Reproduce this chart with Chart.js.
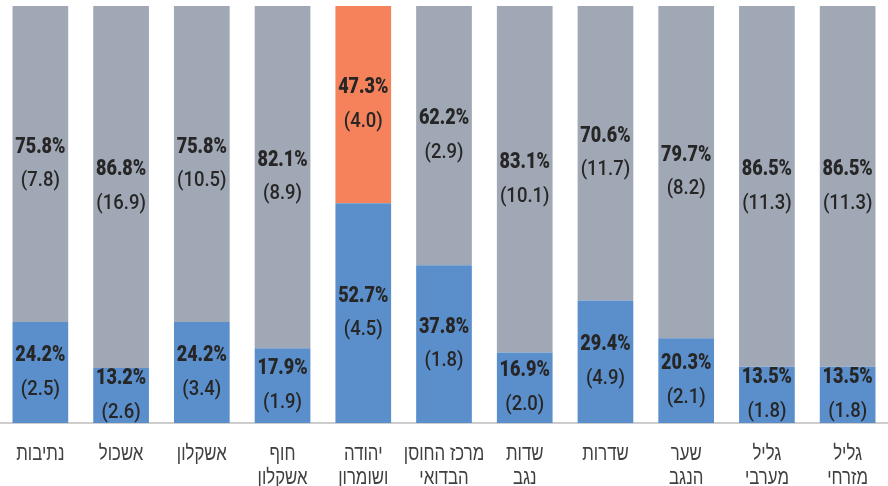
<!DOCTYPE html>
<html>
<head>
<meta charset="utf-8">
<script src="https://cdn.jsdelivr.net/npm/chart.js@4"></script>
<style>
  html, body { margin: 0; padding: 0; background: #fff; }
  #wrap { width: 888px; height: 486px; }
</style>
</head>
<body>
<div id="wrap"><canvas id="chart"></canvas></div>
<script>
// Chart data
const categories = [
    'נתיבות', 'אשכול', 'אשקלון', ['חוף', 'אשקלון'], ['יהודה', 'ושומרון'],
    ['מרכז החוסן', 'הבדואי'], ['שדות', 'נגב'], 'שדרות', ['שער', 'הנגב'],
    ['גליל', 'מערבי'], ['גליל', 'מזרחי']
];
const bottomPct = [24.2, 13.2, 24.2, 17.9, 52.7, 37.8, 16.9, 29.4, 20.3, 13.5, 13.5];
const bottomCount = [2.5, 2.6, 3.4, 1.9, 4.5, 1.8, 2.0, 4.9, 2.1, 1.8, 1.8];
const topPct = [75.8, 86.8, 75.8, 82.1, 47.3, 62.2, 83.1, 70.6, 79.7, 86.5, 86.5];
const topCount = [7.8, 16.9, 10.5, 8.9, 4.0, 2.9, 10.1, 11.7, 8.2, 11.3, 11.3];

const BLUE = 'rgb(91, 143, 204)';
const GRAY = 'rgb(160, 168, 181)';
const ORANGE = 'rgb(245, 130, 90)';
const NUM_FONT = 'Roboto, "Liberation Sans", sans-serif';
const HEB_FONT = '"Liberation Sans", "DejaVu Sans", sans-serif';

// condensed text: squeeze horizontally around x
function narrowText(ctx, text, x, y, sx) {
    ctx.save();
    ctx.translate(x, y);
    ctx.scale(sx, 1);
    ctx.fillText(text, 0, 0);
    ctx.restore();
}

// Draw percent + count inside each segment, and the category labels
const segmentLabels = {
    id: 'segmentLabels',
    afterDatasetsDraw(chart) {
        const ctx = chart.ctx;
        const counts = [bottomCount, topCount];
        ctx.save();
        ctx.fillStyle = '#262626';
        ctx.textAlign = 'center';
        ctx.textBaseline = 'middle';
        chart.data.datasets.forEach((ds, di) => {
            chart.getDatasetMeta(di).data.forEach((bar, i) => {
                const mid = (bar.y + bar.base) / 2;
                ctx.font = '900 22px ' + NUM_FONT;
                narrowText(ctx, ds.data[i].toFixed(1) + '%', bar.x, mid - 17, 0.82);
                ctx.font = '500 21px ' + NUM_FONT;
                narrowText(ctx, '(' + counts[di][i].toFixed(1) + ')', bar.x, mid + 17, 0.88);
            });
        });

        const xs = chart.scales.x;
        ctx.fillStyle = '#404040';
        ctx.font = '21px ' + HEB_FONT;
        categories.forEach((lab, i) => {
            const lines = Array.isArray(lab) ? lab : [lab];
            const x = xs.getPixelForTick(i);
            lines.forEach((line, j) => {
                narrowText(ctx, line, x, xs.top + 31 + j * 24, 0.8);
            });
        });
        ctx.restore();
    }
};

new Chart(document.getElementById('chart'), {
    type: 'bar',
    data: {
        labels: categories,
        datasets: [
            { data: bottomPct, backgroundColor: BLUE },
            { data: topPct, backgroundColor: topPct.map((v, i) => i === 4 ? ORANGE : GRAY) }
        ]
    },
    options: {
        responsive: true,
        maintainAspectRatio: false,
        animation: false,
        layout: { padding: { top: 6, left: 0, right: 0, bottom: 0 } },
        datasets: { bar: { barPercentage: 0.69, categoryPercentage: 1 } },
        plugins: { legend: { display: false }, tooltip: { enabled: false } },
        scales: {
            x: {
                stacked: true,
                grid: { display: false, drawTicks: false },
                border: { display: true, color: 'rgb(205, 205, 205)', width: 2 },
                ticks: { display: false },
                afterFit(scale) { scale.height = 63; }
            },
            y: {
                stacked: true,
                display: false,
                min: 0,
                max: 100
            }
        }
    },
    plugins: [segmentLabels]
});
</script>
</body>
</html>
